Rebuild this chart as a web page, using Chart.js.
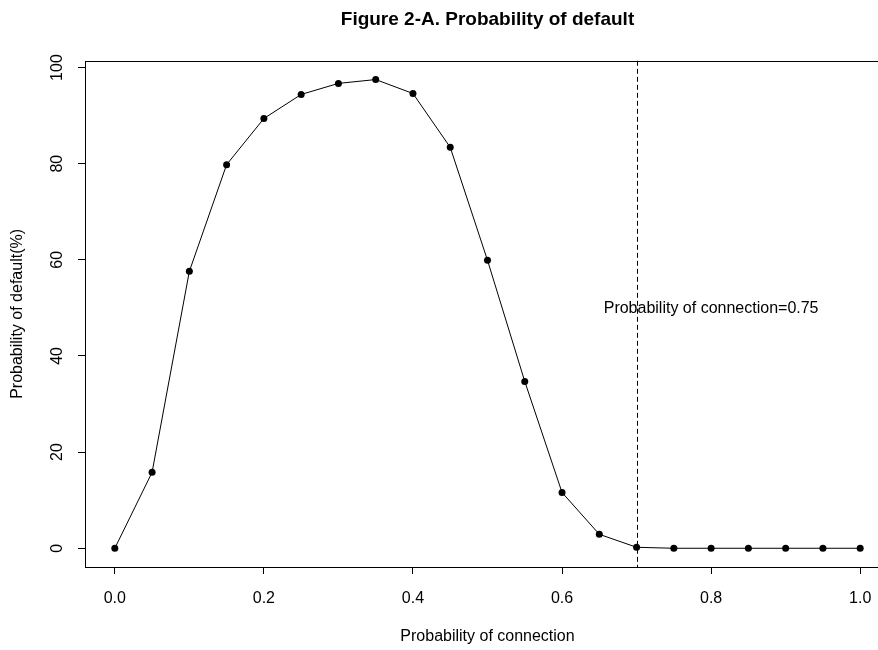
<!DOCTYPE html>
<html>
<head>
<meta charset="utf-8">
<script src="https://cdn.jsdelivr.net/npm/chart.js@4.4.1/dist/chart.umd.min.js"></script>
<style>
  html, body { margin: 0; padding: 0; background: #fff; overflow: hidden; }
  #wrap { width: 900px; height: 650px; }
</style>
</head>
<body>
<div id="wrap"><canvas id="pdChart" width="900" height="650"></canvas></div>
<script>
// values
const connProb = [0, 0.05, 0.1, 0.15, 0.2, 0.25, 0.3, 0.35, 0.4, 0.45, 0.5,
                  0.55, 0.6, 0.65, 0.7, 0.75, 0.8, 0.85, 0.9, 0.95, 1.0];
const defaultProb = [0, 15.8, 57.6, 79.8, 89.4, 94.4, 96.7, 97.5, 94.6, 83.4, 59.9,
                     34.7, 11.6, 2.9, 0.2, 0, 0, 0, 0, 0, 0];
const xTicks = [0, 0.2, 0.4, 0.6, 0.8, 1.0];
const yTicks = [0, 20, 40, 60, 80, 100];
const cutoffX = 0.7;
const noteText = 'Probability of connection=0.75';
const notePos = { x: 0.8, y: 50 };

const FONT = '"Liberation Sans", Arial, sans-serif';
Chart.defaults.font.family = FONT;
Chart.defaults.color = '#000';

// dashed cutoff line, note text, and the R-style box
const rStylePlugin = {
    id: 'rStyle',
    afterDatasetsDraw(chart) {
        const ctx = chart.ctx;
        const area = chart.chartArea;
        const xs = chart.scales.x, ys = chart.scales.y;
        const px = Math.round(xs.getPixelForValue(cutoffX)) + 0.5;

        ctx.save();
        ctx.strokeStyle = '#000';
        ctx.lineWidth = 1;
        ctx.setLineDash([5, 3]);
        ctx.beginPath();
        ctx.moveTo(px, area.top);
        ctx.lineTo(px, area.bottom);
        ctx.stroke();
        ctx.setLineDash([]);

        ctx.font = '16px ' + FONT;
        ctx.fillStyle = '#000';
        ctx.textAlign = 'center';
        ctx.textBaseline = 'middle';
        ctx.fillText(noteText, xs.getPixelForValue(notePos.x), ys.getPixelForValue(notePos.y) + 1);
        ctx.restore();
    },
    afterDraw(chart) {
        const ctx = chart.ctx;
        const a = chart.chartArea;
        ctx.save();
        ctx.strokeStyle = '#000';
        ctx.lineWidth = 1;
        ctx.strokeRect(Math.round(a.left) + 0.5, Math.round(a.top) + 0.5,
                       Math.round(a.right - a.left), Math.round(a.bottom - a.top));
        ctx.restore();
    }
};

const points = connProb.map((x, i) => ({ x: x, y: defaultProb[i] }));

new Chart(document.getElementById('pdChart'), {
    type: 'line',
    data: {
        datasets: [{
            label: 'Probability of default',
            data: points,
            borderColor: '#000',
            borderWidth: 1,
            backgroundColor: '#000',
            pointBackgroundColor: '#000',
            pointBorderColor: '#000',
            pointRadius: 3.5,
            pointBorderWidth: 0,
            fill: false,
            tension: 0
        }]
    },
    options: {
        responsive: false,
        animation: false,
        layout: { padding: { left: 0, right: 10, top: 0, bottom: 0 } },
        plugins: {
            legend: { display: false },
            tooltip: { enabled: false },
            title: {
                display: true,
                text: 'Figure 2-A. Probability of default',
                fullSize: false,
                font: { size: 19, weight: 'bold' },
                color: '#000',
                padding: { top: 8, bottom: 30 }
            }
        },
        scales: {
            x: {
                type: 'linear',
                min: -0.04,
                max: 1.04,
                afterBuildTicks: s => { s.ticks = xTicks.map(v => ({ value: v })); },
                afterFit: s => { s.height = 83; },
                border: { display: false },
                grid: { drawOnChartArea: false, drawTicks: true, tickLength: 7, color: '#000' },
                ticks: {
                    font: { size: 16 },
                    padding: 15,
                    maxRotation: 0,
                    callback: v => Number(v).toFixed(1)
                },
                title: {
                    display: true,
                    text: 'Probability of connection',
                    font: { size: 16 },
                    padding: { top: 0, bottom: 4 }
                }
            },
            y: {
                min: -3.9,
                max: 101.4,
                afterBuildTicks: s => { s.ticks = yTicks.map(v => ({ value: v })); },
                afterFit: s => { s.width = 85; },
                border: { display: false },
                grid: { drawOnChartArea: false, drawTicks: true, tickLength: 7, color: '#000' },
                ticks: {
                    font: { size: 16 },
                    minRotation: 90,
                    maxRotation: 90,
                    crossAlign: 'center',
                    padding: 7,
                    callback: v => String(v)
                },
                title: {
                    display: true,
                    text: 'Probability of default(%)',
                    font: { size: 16 },
                    padding: { top: 8, bottom: 0 }
                }
            }
        }
    },
    plugins: [rStylePlugin]
});
</script>
</body>
</html>
